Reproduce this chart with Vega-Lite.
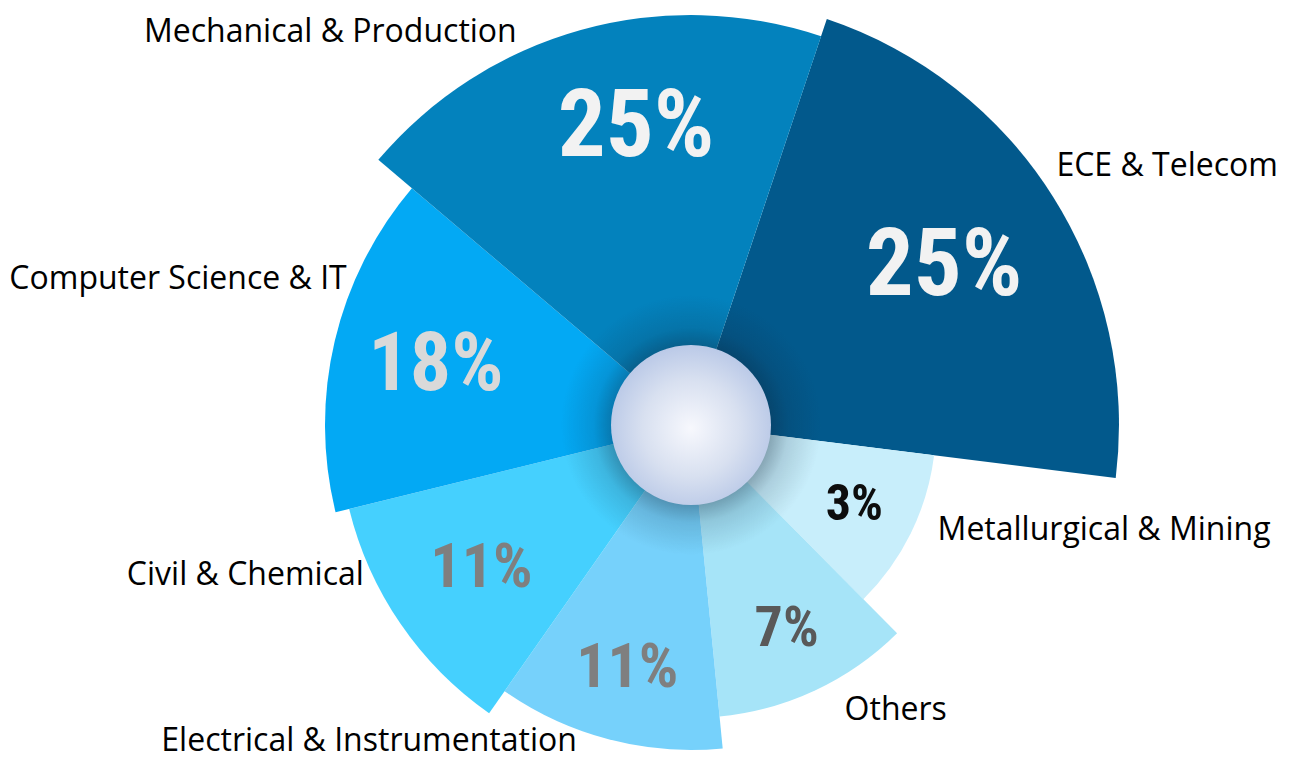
{
  "$schema": "https://vega.github.io/schema/vega-lite/v6.json",
  "width": 1198,
  "height": 680,
  "autosize": "none",
  "padding": {"left": 92, "top": 85, "right": 0, "bottom": 0},
  "background": "white",
  "config": {"view": {"stroke": null}},
  "data": {
    "values": [
      {"idx": 1, "cat": "ECE & Telecom", "pct": 25, "label": "25%", "angle": 78.6},
      {"idx": 2, "cat": "Metallurgical & Mining", "pct": 3, "label": "3%", "angle": 38.2},
      {"idx": 3, "cat": "Others", "pct": 7, "label": "7%", "angle": 39.1},
      {"idx": 4, "cat": "Electrical & Instrumentation", "pct": 11, "label": "11%", "angle": 40.6},
      {"idx": 5, "cat": "Civil & Chemical", "pct": 11, "label": "11%", "angle": 41.2},
      {"idx": 6, "cat": "Computer Science & IT", "pct": 18, "label": "18%", "angle": 54.1},
      {"idx": 7, "cat": "Mechanical & Production", "pct": 25, "label": "25%", "angle": 68.2}
    ]
  },
  "layer": [
    {
      "mark": {"type": "arc", "stroke": null, "radius2": 0},
      "encoding": {
        "theta": {"field": "angle", "type": "quantitative", "stack": true, "scale": {"domain": [0, 360], "range": [0.3229, 6.6061]}},
        "radius": {"field": "angle", "type": "quantitative", "scale": {"type": "linear", "domain": [38.2, 39.1, 40.6, 41.2, 54.1, 68.2, 78.6], "range": [245, 293, 325, 352, 366, 410, 428]}},
        "color": {"field": "cat", "type": "nominal", "legend": null,
          "scale": {"domain": ["ECE & Telecom", "Metallurgical & Mining", "Others", "Electrical & Instrumentation", "Civil & Chemical", "Computer Science & IT", "Mechanical & Production"],
                    "range": ["#02598C", "#C8EEFB", "#A6E4F8", "#76D1FB", "#45D0FE", "#03A9F4", "#0382BD"]}},
        "order": {"field": "idx", "type": "quantitative"}
      }
    },
    {
      "data": {"values": [{"hub": "halo"}]},
      "mark": {"type": "point", "shape": "circle", "filled": true, "size": 67600, "opacity": 1,
        "fill": {"gradient": "radial", "x1": 0.5, "y1": 0.5, "r1": 0, "x2": 0.5, "y2": 0.5, "r2": 0.5,
          "stops": [{"offset": 0.55, "color": "rgba(15,35,55,0.45)"}, {"offset": 0.75, "color": "rgba(15,35,55,0.15)"}, {"offset": 1, "color": "rgba(15,35,55,0)"}]}},
      "encoding": {}
    },
    {
      "data": {"values": [{"hub": "centre"}]},
      "mark": {"type": "point", "shape": "circle", "filled": true, "size": 25600, "opacity": 1,
        "fill": {"gradient": "radial", "x1": 0.5, "y1": 0.52, "r1": 0, "x2": 0.5, "y2": 0.52, "r2": 0.55,
          "stops": [{"offset": 0, "color": "#f7f8fd"}, {"offset": 0.55, "color": "#d8e0f0"}, {"offset": 1, "color": "#b6c6e6"}]}},
      "encoding": {}
    },
    {
      "mark": {"type": "text", "font": "Roboto Condensed, Open Sans Condensed, Noto Sans Condensed, DejaVu Sans Condensed, sans-serif", "fontWeight": "bold", "align": "center", "baseline": "middle"},
      "encoding": {
        "theta": {"field": "angle", "type": "quantitative", "stack": true, "scale": {"domain": [0, 360], "range": [0.3229, 6.6061]}},
        "radius": {"field": "angle", "type": "quantitative", "scale": {"type": "linear", "domain": [38.2, 39.1, 40.6, 41.2, 54.1, 68.2, 78.6], "range": [182, 225, 251, 254, 262, 303, 299]}},
        "text": {"field": "label", "type": "nominal"},
        "size": {"field": "pct", "type": "quantitative", "legend": null, "scale": {"domain": [3, 7, 11, 18, 25], "range": [50, 56, 62, 82, 95]}},
        "color": {"field": "cat", "type": "nominal", "legend": null,
          "scale": {"domain": ["ECE & Telecom", "Metallurgical & Mining", "Others", "Electrical & Instrumentation", "Civil & Chemical", "Computer Science & IT", "Mechanical & Production"],
                    "range": ["#f2f2f2", "#0d0d0d", "#595959", "#7f7f7f", "#7f7f7f", "#d9d9d9", "#f2f2f2"]}},
        "opacity": {"condition": {"test": "datum.cat !== 'Mechanical & Production'", "value": 1}, "value": 0},
        "order": {"field": "idx", "type": "quantitative"}
      }
    },
    {
      "mark": {"type": "text", "font": "Roboto Condensed, Open Sans Condensed, Noto Sans Condensed, DejaVu Sans Condensed, sans-serif", "fontWeight": "bold", "align": "center", "baseline": "middle", "fontSize": 95, "color": "#f2f2f2", "thetaOffset": 0.09},
      "encoding": {
        "theta": {"field": "angle", "type": "quantitative", "stack": true, "scale": {"domain": [0, 360], "range": [0.3229, 6.6061]}},
        "radius": {"field": "angle", "type": "quantitative", "scale": {"type": "linear", "domain": [38.2, 39.1, 40.6, 41.2, 54.1, 68.2, 78.6], "range": [182, 225, 251, 254, 262, 303, 299]}},
        "text": {"field": "label", "type": "nominal"},
        "opacity": {"condition": {"test": "datum.cat === 'Mechanical & Production'", "value": 1}, "value": 0},
        "order": {"field": "idx", "type": "quantitative"}
      }
    },
    {
      "mark": {"type": "text", "font": "Open Sans", "fontSize": 32, "align": "left", "baseline": "middle", "color": "#000000", "thetaOffset": -0.055},
      "encoding": {
        "theta": {"field": "angle", "type": "quantitative", "stack": true, "scale": {"domain": [0, 360], "range": [0.3229, 6.6061]}},
        "radius": {"field": "angle", "type": "quantitative", "scale": {"type": "linear", "domain": [38.2, 39.1, 40.6, 41.2, 54.1, 68.2, 78.6], "range": [268, 324, 336, 360, 374, 430, 448]}},
        "text": {"field": "cat", "type": "nominal"},
        "opacity": {"condition": {"test": "indexof(['ECE & Telecom','Metallurgical & Mining','Others'], datum.cat) >= 0", "value": 1}, "value": 0},
        "order": {"field": "idx", "type": "quantitative"}
      }
    },
    {
      "mark": {"type": "text", "font": "Open Sans", "fontSize": 32, "align": "right", "baseline": "middle", "color": "#000000", "thetaOffset": 0.17},
      "encoding": {
        "theta": {"field": "angle", "type": "quantitative", "stack": true, "scale": {"domain": [0, 360], "range": [0.3229, 6.6061]}},
        "radius": {"field": "angle", "type": "quantitative", "scale": {"type": "linear", "domain": [38.2, 39.1, 40.6, 41.2, 54.1, 68.2, 78.6], "range": [268, 324, 336, 360, 374, 430, 448]}},
        "text": {"field": "cat", "type": "nominal"},
        "opacity": {"condition": {"test": "indexof(['Civil & Chemical','Computer Science & IT'], datum.cat) >= 0", "value": 1}, "value": 0},
        "order": {"field": "idx", "type": "quantitative"}
      }
    },
    {
      "mark": {"type": "text", "font": "Open Sans", "fontSize": 32, "align": "right", "baseline": "middle", "color": "#000000", "thetaOffset": 0.09},
      "encoding": {
        "theta": {"field": "angle", "type": "quantitative", "stack": true, "scale": {"domain": [0, 360], "range": [0.3229, 6.6061]}},
        "radius": {"field": "angle", "type": "quantitative", "scale": {"type": "linear", "domain": [38.2, 39.1, 40.6, 41.2, 54.1, 68.2, 78.6], "range": [268, 324, 336, 360, 374, 430, 448]}},
        "text": {"field": "cat", "type": "nominal"},
        "opacity": {"condition": {"test": "datum.cat === 'Electrical & Instrumentation'", "value": 1}, "value": 0},
        "order": {"field": "idx", "type": "quantitative"}
      }
    },
    {
      "mark": {"type": "text", "font": "Open Sans", "fontSize": 32, "align": "right", "baseline": "middle", "color": "#000000", "thetaOffset": -0.145},
      "encoding": {
        "theta": {"field": "angle", "type": "quantitative", "stack": true, "scale": {"domain": [0, 360], "range": [0.3229, 6.6061]}},
        "radius": {"field": "angle", "type": "quantitative", "scale": {"type": "linear", "domain": [38.2, 39.1, 40.6, 41.2, 54.1, 68.2, 78.6], "range": [268, 324, 336, 360, 374, 430, 448]}},
        "text": {"field": "cat", "type": "nominal"},
        "opacity": {"condition": {"test": "datum.cat === 'Mechanical & Production'", "value": 1}, "value": 0},
        "order": {"field": "idx", "type": "quantitative"}
      }
    }
  ],
  "resolve": {"scale": {"radius": "independent", "color": "independent", "size": "independent", "opacity": "independent"}}
}
